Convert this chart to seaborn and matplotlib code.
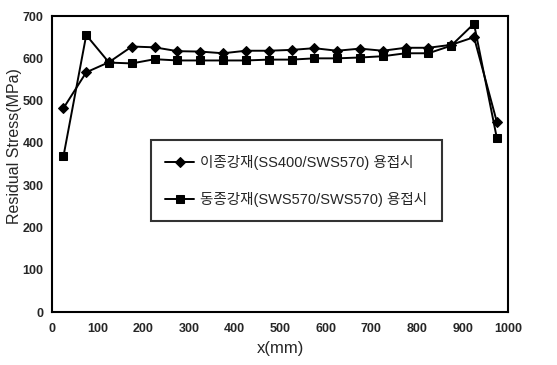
import numpy as np
import pandas as pd
import matplotlib
matplotlib.use("Agg")
import matplotlib.pyplot as plt
import seaborn as sns

# positions along the weld (mm)
x_mm = [25, 75, 125, 175, 225, 275, 325, 375, 425, 475,
        525, 575, 625, 675, 725, 775, 825, 875, 925, 975]

# dissimilar steels SS400/SWS570
stress_diff = [482, 567, 591, 628, 626, 617, 616, 612, 618, 618,
               620, 624, 618, 623, 618, 625, 625, 632, 650, 450]
# similar steels SWS570/SWS570
stress_same = [368, 655, 590, 588, 598, 595, 595, 595, 595, 597,
               597, 600, 600, 602, 605, 612, 612, 630, 682, 412]

label_diff = "이종강재(SS400/SWS570) 용접시"
label_same = "동종강재(SWS570/SWS570) 용접시"

df = pd.concat([
    pd.DataFrame({"x": x_mm, "stress": stress_diff, "series": label_diff}),
    pd.DataFrame({"x": x_mm, "stress": stress_same, "series": label_same}),
])

sns.set_style("white")
plt.rcParams['font.family'] = ['Liberation Sans', 'Noto Sans CJK KR', 'DejaVu Sans']

fig = plt.figure(figsize=(5.57, 3.65), dpi=100)
ax = fig.add_axes([0.0934, 0.145, 0.819, 0.811])

sns.lineplot(data=df, x="x", y="stress", hue="series", style="series",
             markers={label_diff: "D", label_same: "s"}, dashes=False,
             palette={label_diff: "black", label_same: "black"},
             markersize=5.5, linewidth=1.4, markeredgecolor="black", ax=ax)

ax.set_xlim(0, 1000)
ax.set_ylim(0, 700)
ax.set_xticks(range(0, 1001, 100))
ax.set_yticks(range(0, 701, 100))
ax.tick_params(axis="x", direction="in", length=4, width=1.2, labelsize=9, pad=8)
ax.tick_params(axis="y", length=0, labelsize=9, pad=6)
for lab in ax.get_xticklabels() + ax.get_yticklabels():
    lab.set_fontweight("bold")
for s in ax.spines.values():
    s.set_color("black")
    s.set_linewidth(1.5)

ax.set_xlabel("x(mm)", fontsize=12)
ax.set_ylabel("Residual Stress(MPa)", fontsize=11.5)
ax.yaxis.set_label_coords(-0.066, 0.56)

leg = ax.legend(loc="upper left", bbox_to_anchor=(0.2, 0.605), frameon=True,
                fancybox=False, edgecolor="black", fontsize=10.5,
                handlelength=2.0, labelspacing=1.5, borderpad=1.0,
                handletextpad=0.4)
leg.get_frame().set_linewidth(1.5)
leg.set_title(None)

fig.savefig("out.png", dpi=100)
